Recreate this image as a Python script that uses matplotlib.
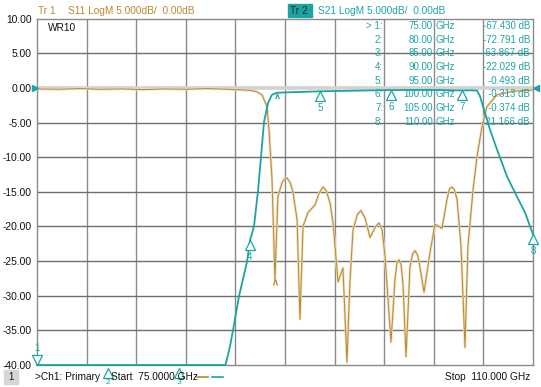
import numpy as np
import matplotlib
matplotlib.use("Agg")
import matplotlib.pyplot as plt
from matplotlib.transforms import offset_copy
from matplotlib.patches import Rectangle

# ---------------- data ----------------
s11_freq = [75.0, 76.5, 78.0, 79.5, 81.0, 82.5, 84.0, 85.5, 87.0, 88.5, 89.5, 90.03,
            90.5, 90.88, 91.23, 91.37, 91.58, 91.79, 92.0, 92.29, 92.45, 92.64, 92.85,
            93.06, 93.35, 93.56, 93.77, 94.12, 94.62, 94.9, 95.18, 95.4, 95.68, 95.89,
            96.24, 96.59, 96.87, 97.09, 97.3, 97.6, 97.86, 98.15, 98.5, 98.9, 99.13,
            99.35, 99.56, 99.98, 100.26, 100.4, 100.54, 100.7, 100.83, 101.04,
            101.32, 101.5, 101.67, 101.85, 102.02, 102.31, 102.73, 103.08, 103.29,
            103.58, 103.93, 104.1, 104.28, 104.45, 104.64, 104.92, 105.2, 105.41,
            105.77, 106.05, 106.4, 106.75, 107.46, 108.59, 110.0]
s11_db = [-0.15, -0.2, -0.1, -0.2, -0.15, -0.25, -0.15, -0.2, -0.1, -0.2, -0.3, -0.35,
          -0.55, -1.0, -2.7, -6.0, -13.0, -27.7, -15.7, -13.7, -13.2, -13.0, -13.6,
          -15.0, -19.0, -33.4, -20.0, -18.0, -16.9, -15.2, -14.3, -14.8, -16.6, -19.5,
          -28.0, -26.0, -39.6, -27.7, -20.5, -18.3, -17.7, -18.8, -21.6, -20.0, -19.5,
          -20.5, -24.3, -36.7, -27.7, -25.3, -24.8, -25.6, -28.5, -38.8,
          -25.8, -24.0, -23.5, -24.1, -25.8, -29.5, -23.8, -19.7, -19.9,
          -20.3, -16.1, -14.6, -14.3, -14.7, -16.1, -22.8, -37.5, -22.8,
          -14.7, -9.9, -5.6, -2.7, -1.0, -0.5, -0.3]

s21_freq = [75.0, 80.0, 85.0, 88.3, 88.62, 88.83, 89.25, 89.82, 90.03, 90.31, 90.59,
            90.81, 91.02, 91.3, 91.58, 91.94, 93.35, 95.0, 97.5, 100.0, 102.5, 105.0,
            105.7, 106.05, 106.26, 106.61, 106.96, 107.46, 108.17, 108.87, 109.44, 110.0]
s21_db = [-67.43, -72.791, -63.867, -40.5, -37.3, -35.0, -30.1, -25.1, -22.029, -20.0,
          -15.0, -9.9, -4.9, -2.2, -1.0, -0.7, -0.6, -0.493, -0.4, -0.313, -0.3, -0.374,
          -0.35, -0.4, -1.2, -3.6, -6.0, -8.9, -12.8, -15.7, -18.0, -21.166]

marker_ids = ["1", "2", "3", "4", "5", "6", "7", "8"]
marker_freq = [75.0, 80.0, 85.0, 90.0, 95.0, 100.0, 105.0, 110.0]
marker_db = [-67.430, -72.791, -63.867, -22.029, -0.493, -0.313, -0.374, -21.166]

y_ticks = [10, 5, 0, -5, -10, -15, -20, -25, -30, -35, -40]
f_start, f_stop = 75.0, 110.0

# ---------------- style ----------------
W, H = 541, 387
GOLD = "#b8892e"
GOLD_LIGHT = "#ecdcbc"
TEAL = "#1ea3a3"
FONT = "Liberation Sans"
plt.rcParams["font.family"] = [FONT, "DejaVu Sans"]

fig = plt.figure(figsize=(W / 100, H / 100), dpi=100)
fig.patch.set_facecolor("white")

L, R, T, B = 37, 533, 18.6, 365
ax = fig.add_axes([L / W, 1 - B / H, (R - L) / W, (B - T) / H])
ax.set_xlim(f_start, f_stop)
ax.set_ylim(-40.0, 10.0)
ax.set_facecolor("white")

# grid
for k in range(1, 10):
    ax.axvline(f_start + k * (f_stop - f_start) / 10, color="#8a8a8a", lw=1.0, zorder=1)
for v in y_ticks[1:-1]:
    if v == 0:
        ax.axhline(v, color="#d2d2d2", lw=2.6, zorder=1)
    else:
        ax.axhline(v, color="#6e6e6e", lw=1.0, zorder=1)
for sp in ax.spines.values():
    sp.set_color("#8a8a8a")
    sp.set_linewidth(1.0)

ax.set_xticks([])
ax.set_yticks(y_ticks)
ax.set_yticklabels([f"{v:.2f}" for v in y_ticks], fontsize=7.4, color="#111111")
ax.tick_params(axis="y", length=0, pad=4)

# traces
s11f = np.array(s11_freq)
s11d = np.maximum(np.array(s11_db), -40.0)
ax.plot(s11f, s11d, color=GOLD_LIGHT, lw=1.8, zorder=3, solid_joinstyle="round")
ax.plot(s11f, s11d, color=GOLD, lw=0.7, zorder=4)

s21f = np.array(s21_freq)
s21d = np.maximum(np.array(s21_db), -40.0)
ax.plot(s21f, s21d, color=TEAL, lw=1.3, zorder=5, clip_on=False)

# small inactive-marker carets
ax.plot([91.8], [-27.6], marker=r"$\wedge$", color=GOLD, ms=4, mew=0.3, zorder=6,
        transform=offset_copy(ax.transData, fig, y=-2, units="points"))
ax.plot([91.95], [-0.7], marker=r"$\wedge$", color=TEAL, ms=3.5, mew=0.3, zorder=6,
        transform=offset_copy(ax.transData, fig, y=-2, units="points"))

# reference arrows
ax.plot([f_start], [0], marker=">", color=TEAL, ms=5, clip_on=False, zorder=7,
        transform=offset_copy(ax.transData, fig, x=-1.5, units="points"))
ax.plot([f_stop], [0], marker="<", color=TEAL, ms=5, clip_on=False, zorder=7,
        transform=offset_copy(ax.transData, fig, x=2.5, units="points"))

# markers
for mid, mf, md in zip(marker_ids, marker_freq, marker_db):
    if md >= -40:
        tr = offset_copy(ax.transData, fig, y=-3.3, units="points")
        ax.plot([mf], [md], marker="^", ms=7, mfc="white", mec=TEAL, mew=0.9,
                clip_on=False, zorder=8, transform=tr)
        ax.text(mf, md, mid, color=TEAL, fontsize=7, ha="center", va="center", zorder=8,
                transform=offset_copy(ax.transData, fig, y=-12, units="points"))
    elif mid == "1":
        ax.plot([mf], [-40], marker="v", ms=7, mfc="white", mec=TEAL, mew=0.9,
                clip_on=False, zorder=8,
                transform=offset_copy(ax.transData, fig, y=3.3, units="points"))
        ax.text(mf, -40, mid, color=TEAL, fontsize=7, ha="center", va="center",
                transform=offset_copy(ax.transData, fig, y=12, units="points"))
    else:
        ax.plot([mf], [-40], marker="^", ms=7, mfc="white", mec=TEAL, mew=0.9,
                clip_on=False, zorder=8,
                transform=offset_copy(ax.transData, fig, y=-6, units="points"))
        ax.text(mf, -40, mid, color=TEAL, fontsize=6, ha="center", va="center",
                clip_on=False,
                transform=offset_copy(ax.transData, fig, y=-12.5, units="points"))

def ftxt(x, y, s, **kw):
    fig.text(x / W, 1 - y / H, s, **kw)

# header
ftxt(38, 11.5, "Tr 1", color=GOLD, fontsize=7.3, va="center")
ftxt(68, 11.5, "S11 LogM 5.000dB/  0.00dB", color=GOLD, fontsize=7.3, va="center")
fig.patches.append(Rectangle((288 / W, 1 - 17 / H), 24 / W, 13.5 / H,
                             transform=fig.transFigure, color=TEAL, zorder=0))
ftxt(290, 10.5, "Tr 2", color="#0b3434", fontsize=7.3, va="center")
ftxt(318, 11.5, "S21 LogM 5.000dB/  0.00dB", color=TEAL, fontsize=7.3, va="center")

# marker table
for i, (mid, mf, md) in enumerate(zip(marker_ids, marker_freq, marker_db)):
    y = 26 + i * 13.67
    lab = ("> " if i == 0 else "") + f"{mid}:"
    ftxt(383, y, lab, color=TEAL, fontsize=7, ha="right", va="center", zorder=9)
    ftxt(433, y, f"{mf:.2f}", color=TEAL, fontsize=7, ha="right", va="center", zorder=9)
    ftxt(435, y, "GHz", color=TEAL, fontsize=7, ha="left", va="center", zorder=9)
    ftxt(530, y, f"{md:.3f} dB", color=TEAL, fontsize=7, ha="right", va="center", zorder=9)

# label in plot
ftxt(48, 28, "WR10", color="#111111", fontsize=7.3, va="center")

# footer
fig.patches.append(Rectangle((4 / W, 1 - 384 / H), 14 / W, 14 / H,
                             transform=fig.transFigure, color="#d6d6d6", zorder=0))
ftxt(11, 377, "1", color="#111111", fontsize=7, ha="center", va="center")
ftxt(35, 377, ">Ch1: Primary", color="#111111", fontsize=7.3, va="center")
ftxt(111, 377, "Start  75.0000 GHz", color="#111111", fontsize=7.3, va="center")
fig.lines.append(plt.Line2D([197 / W, 208 / W], [1 - 377 / H] * 2, color=GOLD, lw=1.2,
                            transform=fig.transFigure))
fig.lines.append(plt.Line2D([212 / W, 223 / W], [1 - 377 / H] * 2, color=TEAL, lw=1.2,
                            transform=fig.transFigure))
ftxt(530, 377, "Stop  110.000 GHz", color="#111111", fontsize=7.3, ha="right", va="center")

fig.savefig("out.png", dpi=100, facecolor="white")
